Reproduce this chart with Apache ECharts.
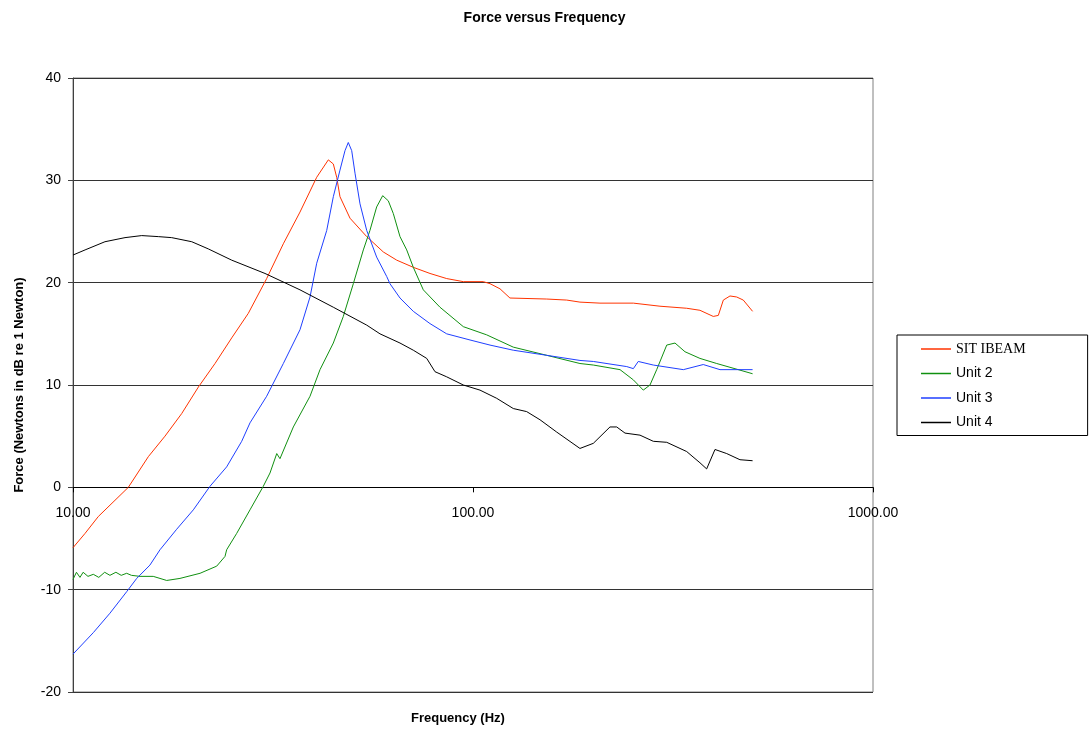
<!DOCTYPE html>
<html>
<head>
<meta charset="utf-8">
<script src="https://cdn.jsdelivr.net/npm/echarts@6/dist/echarts.min.js"></script>
<style>
  html, body { margin: 0; padding: 0; background: #fff; }
  #chart { width: 1089px; height: 731px; }
</style>
</head>
<body>
<div id="chart"></div>
<script>
// SIT IBEAM (red)
var ibeamFreq = [10.0, 10.72, 11.57, 13.75, 15.43, 16.98, 18.69, 20.58, 22.65, 24.93, 27.43, 30.49, 33.56, 36.94, 40.67, 43.48, 44.75, 45.63, 46.50, 49.26, 54.24, 59.67, 64.46, 70.92, 78.07, 85.94, 94.58, 106.1, 110.3, 116.8, 123.7, 152.9, 171.5, 185.1, 207.7, 251.7, 293.4, 342.1, 369.3, 398.7, 410.5, 422.5, 439.0, 456.3, 473.9, 500];
var ibeamForce = [-5.9, -4.5, -2.85, 0, 3.0, 5.0, 7.2, 9.8, 12.1, 14.6, 17.0, 20.4, 23.8, 26.9, 30.3, 32.0, 31.6, 30.3, 28.4, 26.3, 24.5, 23.0, 22.2, 21.5, 20.9, 20.4, 20.1, 20.1, 19.9, 19.4, 18.5, 18.4, 18.3, 18.1, 18.0, 18.0, 17.7, 17.5, 17.3, 16.7, 16.8, 18.3, 18.7, 18.6, 18.3, 17.2];

// Unit 2 (green)
var unit2Freq = [10.0, 10.2, 10.41, 10.6, 10.9, 11.24, 11.6, 12.0, 12.37, 12.8, 13.2, 13.62, 14.0, 14.71, 15.87, 17.15, 18.51, 20.78, 22.87, 23.99, 24.22, 25.66, 27.70, 29.90, 31.08, 32.31, 32.92, 35.55, 39.13, 41.45, 44.75, 47.40, 50.21, 53.19, 55.25, 57.43, 59.46, 61.41, 63.21, 65.69, 68.28, 70.92, 75.12, 82.69, 94.58, 108.2, 126.1, 152.9, 185.1, 199.9, 233.1, 251.7, 266.5, 277.0, 287.9, 305.0, 319.9, 338.8, 369.3, 406.7, 500];
var unit2Force = [-9.0, -8.3, -8.8, -8.3, -8.7, -8.5, -8.8, -8.3, -8.6, -8.3, -8.6, -8.4, -8.6, -8.7, -8.7, -9.1, -8.9, -8.4, -7.7, -6.75, -6.1, -4.5, -2.2, 0.1, 1.4, 3.3, 2.8, 5.9, 8.9, 11.5, 14.1, 16.7, 19.9, 23.2, 25.1, 27.4, 28.5, 28.0, 26.75, 24.5, 23.2, 21.5, 19.3, 17.6, 15.7, 14.9, 13.7, 12.9, 12.1, 11.95, 11.5, 10.5, 9.5, 10.0, 11.5, 13.9, 14.1, 13.25, 12.6, 12.1, 11.1];

// Unit 3 (blue)
var unit3Freq = [10.0, 11.24, 12.37, 13.62, 14.43, 15.57, 16.50, 18.16, 19.99, 22.00, 24.22, 26.41, 27.70, 30.49, 33.56, 36.94, 39.13, 40.67, 43.08, 44.75, 46.50, 47.86, 48.78, 49.75, 50.70, 52.18, 54.24, 57.43, 60.85, 62.00, 65.69, 70.92, 78.07, 85.94, 98.29, 110.3, 126.1, 152.9, 185.1, 199.9, 242.3, 251.7, 258.9, 282.3, 335.6, 376.4, 414.5, 500];
var unit3Force = [-16.3, -14.2, -12.3, -10.2, -8.9, -7.6, -6.1, -4.1, -2.2, 0.1, 2.0, 4.5, 6.3, 8.9, 12.1, 15.4, 18.6, 21.9, 25.1, 28.4, 31.0, 32.9, 33.7, 32.9, 30.7, 27.7, 25.1, 22.5, 20.6, 19.9, 18.5, 17.2, 16.0, 15.0, 14.4, 13.9, 13.4, 12.9, 12.4, 12.3, 11.8, 11.6, 12.3, 11.95, 11.5, 12.0, 11.5, 11.5];

// Unit 4 (black)
var unit4Freq = [10.0, 10.72, 12.02, 13.49, 14.85, 16.34, 17.65, 19.81, 21.79, 24.93, 30.20, 36.94, 44.75, 54.24, 58.54, 65.69, 70.92, 76.61, 80.35, 85.94, 94.58, 104.1, 114.6, 126.1, 136.2, 147.1, 161.9, 185.1, 199.9, 220.0, 228.7, 239.9, 261.5, 282.3, 305.0, 342.1, 369.3, 383.8, 402.7, 430.8, 464.9, 500];
var unit4Force = [22.7, 23.2, 24.0, 24.4, 24.6, 24.5, 24.4, 24.0, 23.3, 22.2, 20.9, 19.3, 17.6, 15.85, 15.0, 14.1, 13.4, 12.6, 11.3, 10.8, 10.0, 9.5, 8.7, 7.7, 7.4, 6.6, 5.4, 3.8, 4.3, 5.9, 5.9, 5.3, 5.1, 4.5, 4.4, 3.5, 2.4, 1.8, 3.7, 3.3, 2.7, 2.6];

var seriesNames = ['SIT IBEAM', 'Unit 2', 'Unit 3', 'Unit 4'];
var seriesColors = ['#ff3300', '#109010', '#1f3fff', '#000000'];

function pairs(xs, ys) {
    return xs.map(function (x, i) { return [x, ys[i]]; });
}

var allData = [
    pairs(ibeamFreq, ibeamForce),
    pairs(unit2Freq, unit2Force),
    pairs(unit3Freq, unit3Force),
    pairs(unit4Freq, unit4Force)
];

var chart = echarts.init(document.getElementById('chart'), null, { renderer: 'canvas' });

var option = {
    animation: false,
    backgroundColor: '#fff',
    title: {
        text: 'Force versus Frequency',
        left: 'center',
        top: 6,
        textStyle: { fontFamily: 'Liberation Sans, Arial', fontSize: 14, fontWeight: 'bold', color: '#000' }
    },
    graphic: [{
        type: 'text',
        left: 411,
        top: 712,
        style: { text: 'Frequency (Hz)', font: 'bold 13px "Liberation Sans", Arial', fill: '#000' }
    }],
    grid: {
        left: 73,
        right: 216,
        top: 78,
        bottom: 39,
        show: true,
        borderColor: '#808080',
        borderWidth: 1
    },
    legend: {
        orient: 'vertical',
        left: 897,
        top: 335,
        padding: [6, 62, 5, 24],
        itemGap: 8.5,
        icon: 'rect',
        itemWidth: 30,
        itemHeight: 1.5,
        borderColor: '#000',
        borderWidth: 1,
        data: [
            { name: 'SIT IBEAM', textStyle: { fontFamily: 'Liberation Serif', fontSize: 14 } },
            { name: 'Unit 2' },
            { name: 'Unit 3' },
            { name: 'Unit 4' }
        ],
        textStyle: { fontFamily: 'Liberation Sans, Arial', fontSize: 14, color: '#000', lineHeight: 16 }
    },
    xAxis: {
        type: 'log',
        logBase: 10,
        min: 10,
        max: 1000,
        axisLine: { onZero: true, lineStyle: { color: '#000', width: 1 } },
        axisTick: { show: true, inside: false, length: 5, lineStyle: { color: '#000' } },
        minorTick: { show: false },
        axisLabel: {
            // labels follow the zero line, not the grid bottom
            margin: -186,
            fontFamily: 'Liberation Sans, Arial',
            fontSize: 14,
            color: '#000',
            formatter: function (v) { return v.toFixed(2); }
        },
        splitLine: { show: false }
    },
    yAxis: {
        type: 'value',
        min: -20,
        max: 40,
        interval: 10,
        name: 'Force (Newtons in dB re 1 Newton)',
        nameLocation: 'middle',
        nameGap: 47,
        nameTextStyle: { fontFamily: 'Liberation Sans, Arial', fontSize: 13, fontWeight: 'bold', color: '#000' },
        axisLine: { show: true, lineStyle: { color: '#404040', width: 1 } },
        axisTick: { show: true, length: 5, lineStyle: { color: '#404040' } },
        axisLabel: {
            margin: 12,
            fontFamily: 'Liberation Sans, Arial',
            fontSize: 14,
            color: '#000'
        },
        splitLine: { show: true, lineStyle: { color: '#333', width: 1 } }
    },
    series: seriesNames.map(function (name, i) {
        return {
            name: name,
            type: 'line',
            symbol: 'none',
            showSymbol: false,
            smooth: false,
            data: allData[i],
            lineStyle: { color: seriesColors[i], width: 1 },
            itemStyle: { color: seriesColors[i] }
        };
    })
};

chart.setOption(option);
</script>
</body>
</html>
